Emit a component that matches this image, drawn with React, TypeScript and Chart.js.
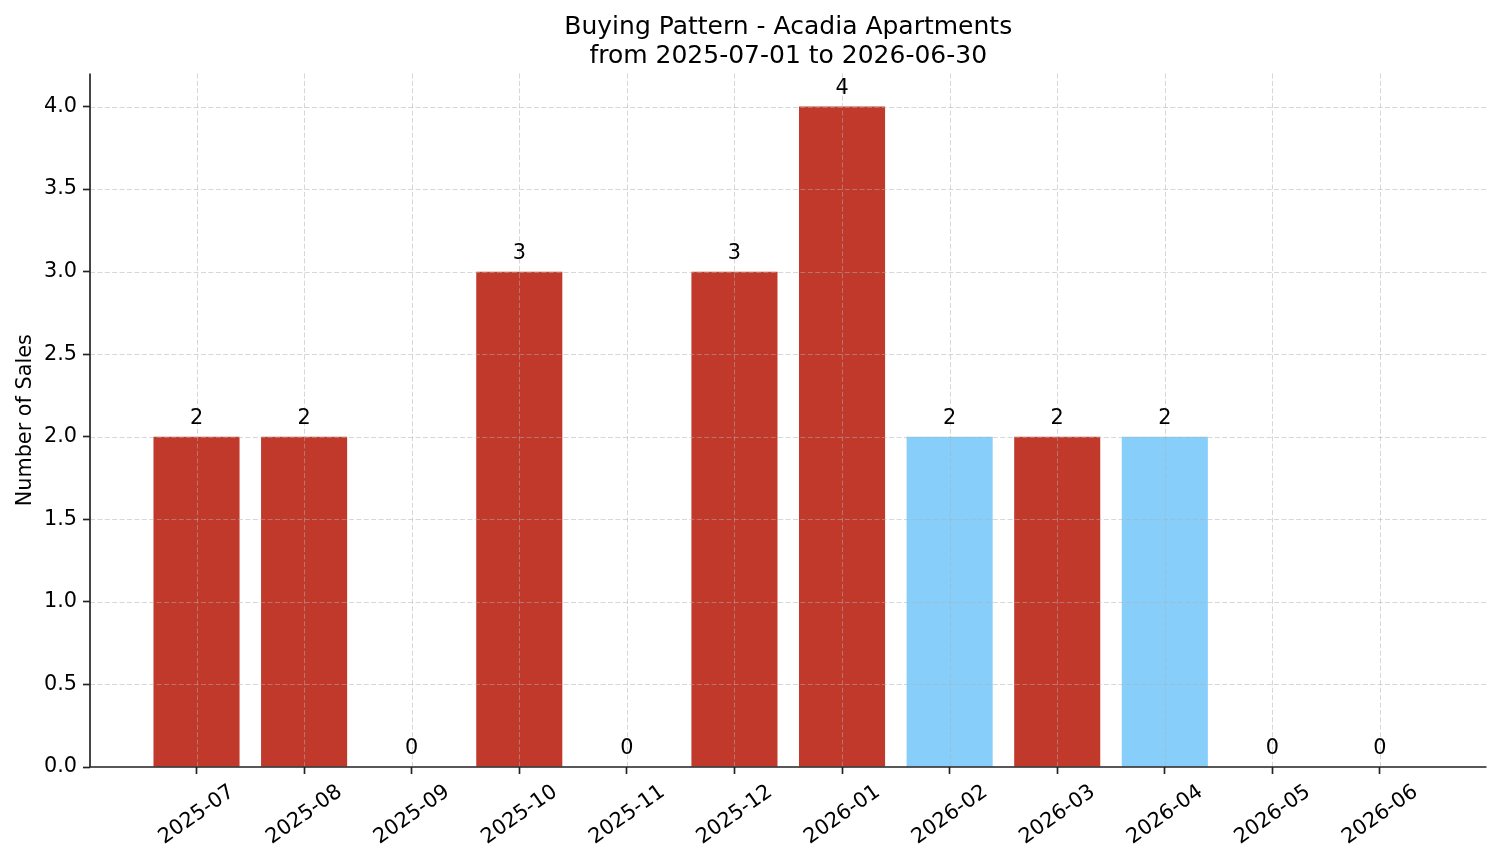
import React, { useEffect, useRef } from 'react';
import { Chart, registerables } from 'chart.js';

Chart.register(...registerables);

const months = ['2025-07', '2025-08', '2025-09', '2025-10', '2025-11', '2025-12', '2026-01', '2026-02', '2026-03', '2026-04', '2026-05', '2026-06'];
const sales = [2, 2, 0, 3, 0, 3, 4, 2, 2, 2, 0, 0];
const RED = '#c0392b';
const BLUE = '#87cefa';
const barColors = [RED, RED, RED, RED, RED, RED, RED, BLUE, RED, BLUE, RED, RED];
const yTickValues = [0, 0.5, 1.0, 1.5, 2.0, 2.5, 3.0, 3.5, 4.0];
const titleLines = ['Buying Pattern - Acadia Apartments', 'from 2025-07-01 to 2026-06-30'];
const yAxisLabel = 'Number of Sales';

const FONT = "'DejaVu Sans', sans-serif";
const W = 1501;
const H = 863;

const overlay = {
  id: 'overlay',
  afterDatasetsDraw(chart: any) {
    const ctx = chart.ctx as CanvasRenderingContext2D;
    const a = chart.chartArea;
    const xs = chart.scales.x;
    const ys = chart.scales.y;
    ctx.save();
    // grid lines above bars
    ctx.strokeStyle = 'rgba(176,176,176,0.5)';
    ctx.lineWidth = 1;
    ctx.setLineDash([5, 2.4]);
    months.forEach((_, i) => {
      const px = Math.round(xs.getPixelForValue(i)) + 0.5;
      ctx.beginPath();
      ctx.moveTo(px, a.top);
      ctx.lineTo(px, a.bottom);
      ctx.stroke();
    });
    yTickValues.forEach((v) => {
      if (v === 0) return;
      const py = Math.round(ys.getPixelForValue(v)) + 0.5;
      ctx.beginPath();
      ctx.moveTo(a.left, py);
      ctx.lineTo(a.right, py);
      ctx.stroke();
    });
    ctx.setLineDash([]);
    // spines
    ctx.strokeStyle = '#222';
    ctx.lineWidth = 1.67;
    ctx.beginPath();
    ctx.moveTo(a.left, a.top);
    ctx.lineTo(a.left, a.bottom);
    ctx.lineTo(a.right, a.bottom);
    ctx.stroke();

    // bar value labels
    ctx.fillStyle = '#000';
    ctx.font = `20.8px ${FONT}`;
    ctx.textAlign = 'center';
    ctx.textBaseline = 'alphabetic';
    sales.forEach((v, i) => {
      const px = xs.getPixelForValue(i);
      const py = ys.getPixelForValue(v);
      ctx.fillText(String(v), px, py - 13);
    });

    // x tick labels rotated 35deg, centered under tick
    const ang = (35 * Math.PI) / 180;
    months.forEach((m, i) => {
      const px = xs.getPixelForValue(i);
      ctx.save();
      ctx.translate(px - 1, 813);
      ctx.rotate(-ang);
      ctx.fillText(m, 0, 7.6);
      ctx.restore();
    });

    // title
    ctx.font = `25px ${FONT}`;
    const cx = (a.left + a.right) / 2;
    ctx.fillText(titleLines[0], cx, 34);
    ctx.fillText(titleLines[1], cx, 62.5);

    // y axis label
    ctx.font = `20.8px ${FONT}`;
    ctx.save();
    ctx.translate(30.5, (a.top + a.bottom) / 2);
    ctx.rotate(-Math.PI / 2);
    ctx.fillText(yAxisLabel, 0, 0);
    ctx.restore();
    ctx.restore();
  },
};

export default function App() {
  const ref = useRef<HTMLCanvasElement | null>(null);
  useEffect(() => {
    document.body.style.margin = '0';
    const canvas = ref.current!;
    const chart = new Chart(canvas, {
      type: 'bar',
      data: {
        datasets: [
          {
            data: sales.map((v, i) => ({ x: i, y: v })),
            backgroundColor: barColors,
            borderWidth: 0,
            barPercentage: 0.8,
            categoryPercentage: 1,
          },
        ],
      },
      options: {
        responsive: false,
        animation: false,
        devicePixelRatio: 1,
        layout: { padding: { top: 73.5, right: 14.5, left: 0, bottom: 0 } },
        plugins: {
          legend: { display: false },
          tooltip: { enabled: false },
          title: { display: false },
        },
        scales: {
          x: {
            type: 'linear',
            offset: false,
            min: -0.99,
            max: 11.99,
            afterBuildTicks: (s: any) => {
              s.ticks = months.map((_, i) => ({ value: i }));
            },
            afterFit: (s: any) => {
              s.height = 96;
            },
            ticks: { display: false },
            grid: {
              display: true,
              offset: false,
              drawOnChartArea: false,
              drawTicks: true,
              tickLength: 7,
              tickColor: '#222',
              tickWidth: 1.67,
            },
            border: { display: false },
          },
          y: {
            type: 'linear',
            min: 0,
            max: 4.2,
            afterBuildTicks: (s: any) => {
              s.ticks = yTickValues.map((v) => ({ value: v }));
            },
            afterFit: (s: any) => {
              s.width = 90;
            },
            ticks: {
              autoSkip: false,
              padding: 6,
              color: '#000',
              font: { family: FONT, size: 20.8 },
              callback: (v: any) => Number(v).toFixed(1),
            },
            grid: {
              display: true,
              drawOnChartArea: false,
              drawTicks: true,
              tickLength: 7,
              tickColor: '#222',
              tickWidth: 1.67,
            },
            border: { display: false },
          },
        },
      } as any,
      plugins: [overlay],
    });
    return () => chart.destroy();
  }, []);
  return (
    <div style={{ width: W, height: H, background: '#fff' }}>
      <canvas ref={ref} width={W} height={H} style={{ display: 'block', width: W, height: H }} />
    </div>
  );
}
